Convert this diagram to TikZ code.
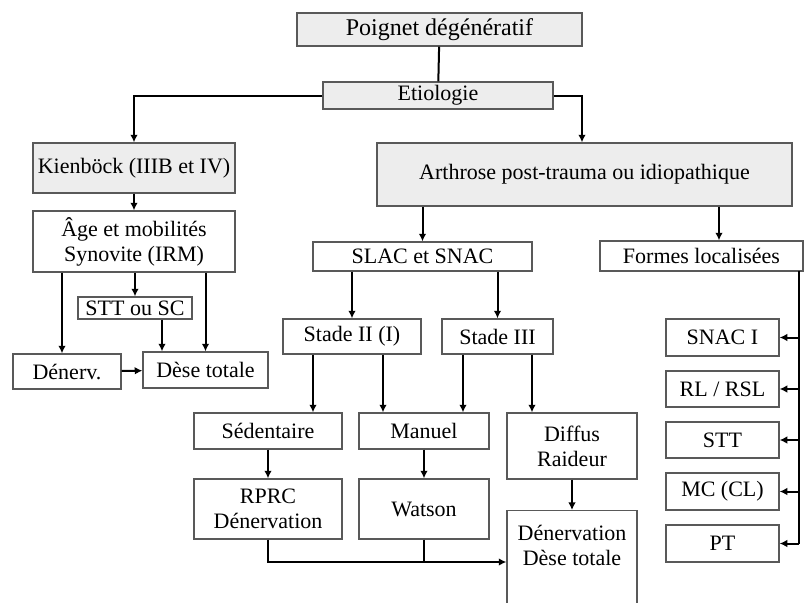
\documentclass[tikz,border=0pt]{standalone}
\usepackage{fontspec}
\setmainfont{Liberation Serif}
\usetikzlibrary{arrows.meta}
\tikzset{
	boite/.style={draw=black!65, line width=0.65pt, inner sep=1pt, align=center, font=\fontsize{11}{12.5}\selectfont},
	grise/.style={boite, fill=black!7},
	taille/.style 2 args={minimum width=#1, minimum height=#2},
	fleche/.style={line width=1pt, -{Latex[length=3.8pt,width=3.8pt]}},
	trait/.style={line width=1pt},
}
\begin{document}
\begin{tikzpicture}[x=0.5pt,y=-0.5pt]
				\useasboundingbox (0,0) rectangle (805,602);
				\clip (0,0) rectangle (805,602);
				% haut
				\node[grise, taille={142.5pt}{16.5pt}, font=\fontsize{12}{13}\selectfont] (poignet) at (439.5,29.5) {Poignet dégénératif};
				\node[grise, taille={115pt}{13.5pt}] (etiol) at (438,95.5) {Etiologie};
				\node[grise, taille={101pt}{25pt}] (kien) at (134,168) {Kienböck (IIIB et IV)};
				\node[grise, taille={207.5pt}{31.5pt}] (arth) at (584.5,174.5) {Arthrose post-trauma ou idiopathique};
				% Kienbock
				\node[boite, taille={101pt}{30.5pt}] (age) at (134,241.5) {Âge et mobilités\\Synovite (IRM)};
				\node[boite, taille={57pt}{11pt}] (stt) at (135,308) {STT ou SC};
				\node[boite, taille={54pt}{17.5pt}] (denerv) at (67,371.5) {Dénerv.};
				\node[boite, taille={62.5pt}{18pt}] (dese) at (205.5,370) {Dèse totale};
				% arthrose
				\node[boite, taille={109.5pt}{14.5pt}] (slac) at (422.5,256.5) {SLAC et SNAC};
				\node[boite, taille={101.5pt}{15pt}] (formes) at (701.5,256) {Formes localisées};
				\node[boite, taille={69pt}{17.5pt}] (stade2) at (352,336.5) {Stade II (I)};
				\node[boite, taille={55.5pt}{17.5pt}] (stade3) at (497.5,336.5) {Stade III};
				\node[boite, taille={74pt}{18pt}] (sed) at (268,431) {Sédentaire};
				\node[boite, taille={65pt}{18pt}] (manuel) at (424,431) {Manuel};
				\node[boite, taille={65pt}{33pt}] (diffus) at (572,446) {Diffus\\Raideur};
				\node[boite, taille={74pt}{30pt}] (rprc) at (268,509) {RPRC\\Dénervation};
				\node[boite, taille={65pt}{30pt}] (watson) at (424,509) {Watson};
				\node[boite, taille={65pt}{51pt}, inner ysep=7.5pt, anchor=north] (denerv2) at (572,510) {\parbox[t][44pt][t]{62pt}{\centering Dénervation\\Dèse totale}};
				% formes localisees
				\node[boite, taille={56.5pt}{18.5pt}] (snac) at (722.5,337.5) {SNAC I};
				\node[boite, taille={56.5pt}{18pt}] (rl) at (722.5,389) {RL / RSL};
				\node[boite, taille={56.5pt}{18pt}] (sttb) at (722.5,440) {STT};
				\node[boite, taille={56.5pt}{18.5pt}] (mc) at (722.5,491.5) {MC (CL)};
				\node[boite, taille={56.5pt}{18.5pt}] (pt) at (722.5,543.5) {PT};
				\coordinate (bus) at (799,271);
				\coordinate (rejoint) at (424,562);
				% liaisons
				\draw[trait] (poignet) -- (etiol);
				\draw[fleche] (etiol.west) -| (kien.north);
				\draw[fleche] (etiol.east) -| ([xshift=-1.25pt]arth.north);
				\draw[fleche] (kien) -- (age);
				\draw[fleche] (stt.north |- age.south) -- (stt.north);
				\draw[fleche] ([xshift=-2.5pt]denerv.north |- age.south) -- ([xshift=-2.5pt]denerv.north);
				\draw[fleche] (dese.north |- age.south) -- (dese.north);
				\draw[fleche] ([xshift=13.5pt]stt.south) -- ([xshift=13.5pt]stt.south |- dese.north);
				\draw[fleche] (denerv) -- (dese);
				\draw[fleche] (slac.north |- arth.south) -- (slac.north);
				\draw[fleche] ([xshift=8.75pt]formes.north |- arth.south) -- ([xshift=8.75pt]formes.north);
				\draw[fleche] (stade2.north |- slac.south) -- (stade2.north);
				\draw[fleche] (stade3.north |- slac.south) -- (stade3.north);
				\draw[fleche] ([xshift=22.5pt]sed.north |- stade2.south) -- ([xshift=22.5pt]sed.north);
				\draw[fleche] ([xshift=-20.5pt]manuel.north |- stade2.south) -- ([xshift=-20.5pt]manuel.north);
				\draw[fleche] ([xshift=19.5pt]manuel.north |- stade3.south) -- ([xshift=19.5pt]manuel.north);
				\draw[fleche] ([xshift=-20pt]diffus.north |- stade3.south) -- ([xshift=-20pt]diffus.north);
				\draw[fleche] (sed) -- (rprc);
				\draw[fleche] (manuel) -- (watson);
				\draw[fleche] (diffus) -- (denerv2);
				\draw[fleche] (rprc.south) |- (rejoint) -- (rejoint -| denerv2.west);
				\draw[trait] (watson.south) -- (rejoint);
				\draw[trait] (bus) -- (bus |- pt.east);
				\foreach \b in {snac,rl,sttb,mc,pt}
					\draw[fleche] (bus |- \b.east) -- (\b.east);
\end{tikzpicture}
\end{document}
